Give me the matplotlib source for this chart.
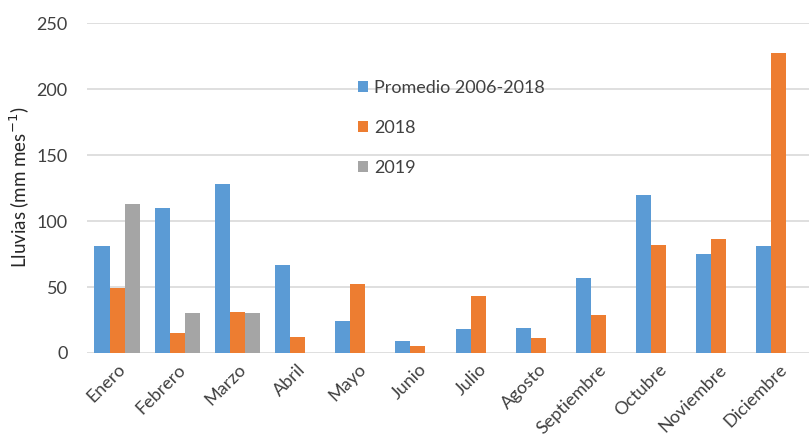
import matplotlib
matplotlib.use("Agg")
import matplotlib.pyplot as plt
import numpy as np

plt.rcParams["font.family"] = ["Lato", "DejaVu Sans"]

meses = ["Enero", "Febrero", "Marzo", "Abril", "Mayo", "Junio", "Julio",
         "Agosto", "Septiembre", "Octubre", "Noviembre", "Diciembre"]
promedio = [81, 110, 128, 67, 24, 9, 18, 19, 57, 120, 75, 81]
lluvia_2018 = [49, 15, 31, 12, 52, 5, 43, 11, 29, 82, 86, 227]
lluvia_2019 = [113, 30, 30, np.nan, np.nan, np.nan, np.nan, np.nan, np.nan,
               np.nan, np.nan, np.nan]

series = [("Promedio 2006-2018", promedio, "#5B9BD5"),
          ("2018", lluvia_2018, "#ED7D31"),
          ("2019", lluvia_2019, "#A5A5A5")]

fig = plt.figure(figsize=(8.09, 4.44), dpi=100)
ax = fig.add_axes([0.1075, 0.205, 0.8925, 0.743])

x = np.arange(len(meses))
w = 0.25
for i, (label, vals, color) in enumerate(series):
    ax.bar(x + (i - 1) * w, vals, width=w, color=color, label=label, zorder=2)

ax.set_xlim(-0.5, len(meses) - 0.5)
ax.set_ylim(0, 250)
ax.set_yticks(range(0, 251, 50))
ax.grid(axis="y", color="#D9D9D9", lw=1.2, zorder=0)
for s in ax.spines.values():
    s.set_visible(False)
ax.tick_params(length=0, colors="#404040", labelsize=13)
ax.tick_params(axis="y", pad=14)
ax.tick_params(axis="x", pad=6)
ax.set_xticks(x)
ax.set_xticklabels(meses, rotation=45, ha="right", rotation_mode="anchor")

# y label placed in figure coords so it stays inside the canvas
fig.text(0.025, 0.577, "Lluvias (mm mes$^{-1}$)", rotation=90,
         ha="center", va="center", fontsize=13.5, color="#262626")

ax.legend(loc="upper left", bbox_to_anchor=(0.423, 0.857),
          bbox_transform=fig.transFigure, frameon=False, fontsize=13,
          handlelength=0.55, handleheight=0.55, handletextpad=0.3,
          labelspacing=1.33, labelcolor="#404040")

fig.savefig("out.png", dpi=100)
